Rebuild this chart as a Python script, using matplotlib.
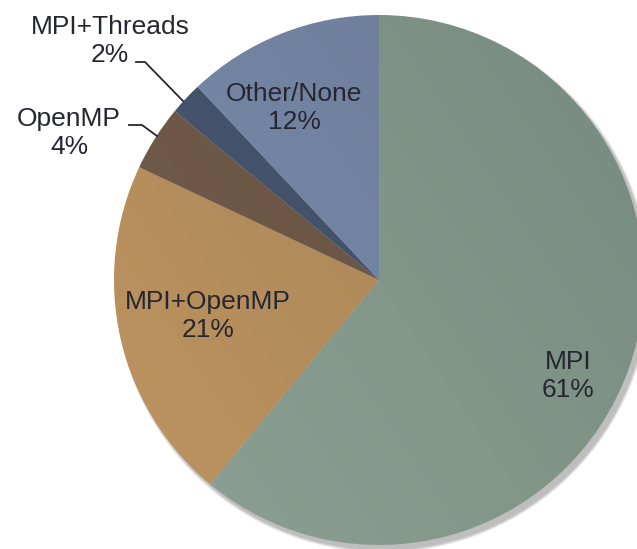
import numpy as np
import matplotlib.pyplot as plt
from matplotlib.patches import Circle
from matplotlib.colors import to_rgb

labels = ["MPI", "MPI+OpenMP", "OpenMP", "MPI+Threads", "Other/None"]
shares = [61, 21, 4, 2, 12]
colors = ["#82968a", "#b08a5a", "#6c5646", "#42526a", "#7384a2"]

W, H = 637, 549
cx, cy, r = 379, H - 280, 265

plt.rcParams['font.family'] = ['Liberation Sans', 'DejaVu Sans']

fig = plt.figure(figsize=(W / 100, H / 100), dpi=100)
ax = fig.add_axes([0, 0, 1, 1])

# soft drop shadow toward the lower right
for k in range(7):
    ax.add_patch(Circle((cx + 4, cy - 5), r + k * 0.45, color="black",
                        alpha=0.04, lw=0, zorder=0))

wedges, _ = ax.pie(shares, colors=colors, startangle=90, counterclock=False,
                   center=(cx, cy), radius=r,
                   wedgeprops=dict(linewidth=0))

# subtle diagonal shading inside each wedge
yy, xx = np.mgrid[0:1:200j, 0:1:200j]
ramp = (xx * 0.6 + (1 - yy) * 0.4)
for w, c in zip(wedges, colors):
    base = np.array(to_rgb(c))
    img = np.clip(base[None, None, :] * (1.08 - 0.16 * ramp[..., None]), 0, 1)
    w.set_facecolor("none")
    im = ax.imshow(img, extent=(cx - r, cx + r, cy - r, cy + r),
                   origin="upper", zorder=1, interpolation="bilinear")
    im.set_clip_path(w)

txt = dict(fontsize=19, color="#262630", ha="center", va="center",
           linespacing=1.2, zorder=5)

inside = {"MPI": (568, 376), "MPI+OpenMP": (208, 316), "Other/None": (294, 108)}
outside = {"OpenMP": (69, 133), "MPI+Threads": (110, 41)}
leaders = {"OpenMP": [(129, 125), (142, 125), (157, 136)],
           "MPI+Threads": [(136, 62), (145, 62), (183, 101)]}

for lab, val in zip(labels, shares):
    pos = inside.get(lab, outside.get(lab))
    ax.text(pos[0], H - pos[1], f"{lab}\n{val}%", **txt)
    if lab in leaders:
        pts = np.array(leaders[lab], dtype=float)
        ax.plot(pts[:, 0], H - pts[:, 1], color="#262630", lw=1.3, zorder=5)

ax.set_xlim(0, W)
ax.set_ylim(0, H)
ax.set_aspect("equal")
ax.axis("off")

fig.savefig("out.png", dpi=100)
